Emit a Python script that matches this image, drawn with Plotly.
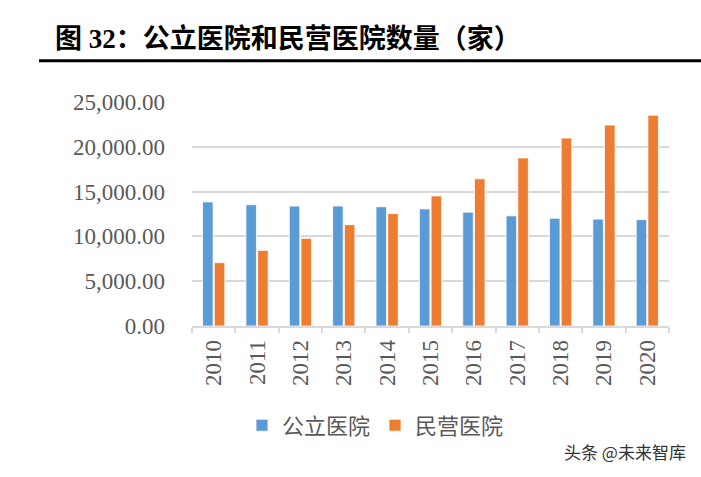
import plotly.graph_objects as go

years = ["2010", "2011", "2012", "2013", "2014", "2015", "2016", "2017", "2018", "2019", "2020"]
public_hospitals = [13850, 13539, 13384, 13396, 13314, 13069, 12708, 12297, 12032, 11930, 11870]
private_hospitals = [7068, 8440, 9786, 11313, 12546, 14518, 16432, 18759, 20977, 22424, 23524]
series_names = ["公立医院", "民营医院"]
title_text = "图 32：公立医院和民营医院数量（家）"
watermark_text = "头条 @未来智库"

# plot-area geometry in pixels (for converting to paper coords)
L, R, T, B = 192, 669, 102.3, 326.5
W, H = R - L, B - T


def px(x):
    return (x - L) / W


def py(y):
    return (B - y) / H


fig = go.Figure()
fig.add_trace(go.Bar(x=years, y=public_hospitals, name=series_names[0],
                     marker=dict(color="#5B9BD5", line=dict(color="white", width=0.8))))
fig.add_trace(go.Bar(x=years, y=private_hospitals, name=series_names[1],
                     marker=dict(color="#ED7D31", line=dict(color="white", width=0.8))))

serif = "Liberation Serif, Times New Roman, serif"
fig.update_layout(
    width=701, height=477,
    margin=dict(l=L, r=701 - R, t=T, b=477 - B, autoexpand=False),
    paper_bgcolor="white", plot_bgcolor="white",
    barmode="group", bargap=0.46, bargroupgap=0.1,
    showlegend=True,
    legend=dict(orientation="h", x=px(242), xanchor="left", y=py(426), yanchor="middle",
                font=dict(family="Noto Sans CJK SC", size=22, color="#595959"),
                bgcolor="rgba(0,0,0,0)"),
    xaxis=dict(type="category", showline=True, linecolor="#D9D9D9", linewidth=1.5,
               ticks="outside", tickson="boundaries", ticklen=5, tickcolor="#D9D9D9", tickwidth=1.5,
               tickangle=-90, ticklabelstandoff=3,
               tickfont=dict(family=serif, size=23, color="#595959"),
               showgrid=False),
    yaxis=dict(range=[0, 25000], dtick=5000, tickformat=",.2f",
               showgrid=True, gridcolor="#D9D9D9", gridwidth=1.5, zeroline=False,
               ticklabelstandoff=26,
               tickfont=dict(family=serif, size=23, color="#595959")),
)

fig.add_annotation(text="<b>" + title_text + "</b>", xref="paper", yref="paper",
                   x=px(53), y=py(39), xanchor="left", yanchor="middle", showarrow=False,
                   font=dict(family="Liberation Serif, Noto Sans CJK SC", size=27, color="black"))
fig.add_shape(type="line", xref="paper", yref="paper",
              x0=px(39), x1=px(701), y0=py(61), y1=py(61),
              line=dict(color="black", width=3))
fig.add_annotation(text=watermark_text, xref="paper", yref="paper",
                   x=px(688), y=py(452), xanchor="right", yanchor="middle", showarrow=False,
                   font=dict(family="Noto Sans CJK SC", size=17, color="#333333"))

fig.write_html("out.html", config={"displayModeBar": False},
               post_script="document.body.style.margin='0';document.body.style.overflow='hidden';")
